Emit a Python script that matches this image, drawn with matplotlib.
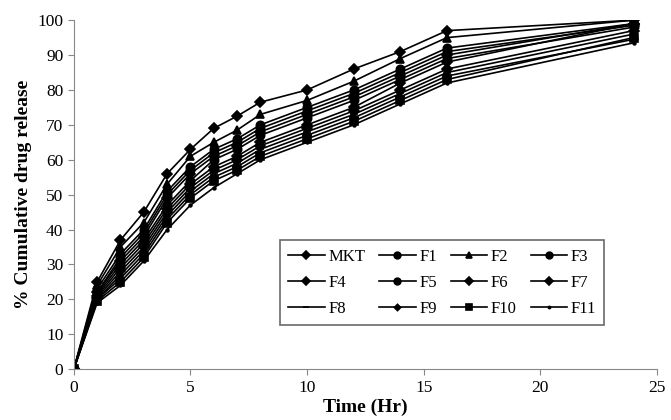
import matplotlib.pyplot as plt

plt.rcParams['font.family'] = ['Liberation Serif', 'DejaVu Serif']

# sampling times (hr)
time = [0, 1, 2, 3, 4, 5, 6, 7, 8, 10, 12, 14, 16, 24]

# % cumulative release for each formulation
mkt = [0, 25, 37, 45, 56, 63, 69, 72.5, 76.5, 80, 86, 91, 97, 100]
f1 = [0, 23, 33, 40, 51, 58, 63, 66, 70, 75, 80, 86, 92, 99]
f2 = [0, 24, 35, 42, 53, 61, 65, 68.5, 73, 77, 82.5, 89, 95, 100]
f3 = [0, 22, 32, 39, 50, 57, 62, 65, 69, 74, 79, 85, 91, 98.5]
f4 = [0, 22, 31, 38, 49, 56, 61, 64, 68, 73, 78, 84, 90, 99]
f5 = [0, 21.5, 30, 37, 47, 54, 60, 63, 67, 72, 77, 83, 89, 98]
f6 = [0, 21, 29, 36, 46, 53, 58, 61, 65, 70, 75, 82, 88, 99]
f7 = [0, 20.5, 28, 35, 45, 52, 57, 60, 64, 69, 74, 80, 86, 97]
f8 = [0, 20, 27, 34, 44, 51, 56, 59, 63, 68, 73, 79, 85, 96]
f9 = [0, 20, 26, 33, 43, 50, 55, 58, 62, 67, 72, 78, 84, 94.5]
f10 = [0, 19.5, 25, 32, 42, 49, 54, 57, 61, 66, 71, 77, 83, 95]
f11 = [0, 19, 24, 31, 40, 47, 52, 56, 60, 65, 70, 76, 82, 93.5]

series = [
    ('MKT', mkt, 'D', 5),
    ('F1', f1, 'o', 6),
    ('F2', f2, '^', 6),
    ('F3', f3, 'o', 6),
    ('F4', f4, 'D', 5),
    ('F5', f5, 'o', 6),
    ('F6', f6, 'D', 5),
    ('F7', f7, 'D', 5),
    ('F8', f8, '_', 6),
    ('F9', f9, 'D', 4),
    ('F10', f10, 's', 6),
    ('F11', f11, '.', 4),
]

fig = plt.figure(figsize=(6.71, 4.2), dpi=100)
ax = fig.add_axes([0.110, 0.121, 0.869, 0.831])

lines = {}
for name, vals, mk, ms in series:
    ln, = ax.plot(time, vals, color='black', lw=1.2, marker=mk, markersize=ms,
                  markeredgewidth=1.2, label=name)
    lines[name] = ln

ax.set_xlim(0, 25)
ax.set_ylim(0, 100)
ax.set_xticks(range(0, 26, 5))
ax.set_yticks(range(0, 101, 10))
ax.tick_params(labelsize=12.5, length=4, color='#888888')
for s in ['top', 'right']:
    ax.spines[s].set_visible(False)
for s in ['left', 'bottom']:
    ax.spines[s].set_color('#888888')

ax.set_xlabel('Time (Hr)', fontsize=14, fontweight='bold', labelpad=2)
ax.set_ylabel('% Cumulative drug release', fontsize=14, fontweight='bold', labelpad=4)

# legend reads across rows, matplotlib fills down columns
order = ['MKT', 'F4', 'F8', 'F1', 'F5', 'F9', 'F2', 'F6', 'F10', 'F3', 'F7', 'F11']
leg = ax.legend([lines[n] for n in order], order, ncol=4, loc='lower left',
                bbox_to_anchor=(0.339, 0.103, 0.585, 0.25),
                mode='expand', fontsize=12, frameon=True, fancybox=False,
                handlelength=2.2, handletextpad=0.2, columnspacing=0.8,
                borderpad=0.5, labelspacing=0.6, markerscale=0.8)
leg.get_frame().set_edgecolor('#444444')
leg.get_frame().set_linewidth(1.2)

fig.savefig('out.png', dpi=100)
